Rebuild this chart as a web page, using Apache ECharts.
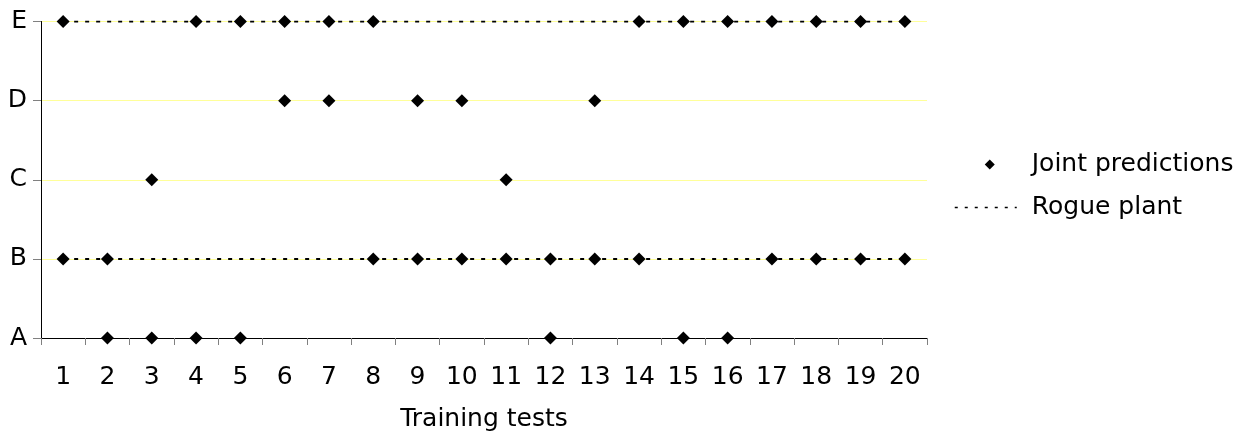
<!DOCTYPE html>
<html>
<head>
<meta charset="utf-8">
<script src="https://cdn.jsdelivr.net/npm/echarts@6/dist/echarts.min.js"></script>
<style>
  html, body { margin: 0; padding: 0; background: #fff; }
  #chart { width: 1246px; height: 437px; }
</style>
</head>
<body>
<div id="chart"></div>
<script>
// training tests 1..20 on x, plant classes A..E on y
const tests = ['1','2','3','4','5','6','7','8','9','10','11','12','13','14','15','16','17','18','19','20'];
const classes = ['A', 'B', 'C', 'D', 'E'];

// joint predictions: [test index, class index]
const jointPredictions = [
  [0, 4], [0, 1],
  [1, 1], [1, 0],
  [2, 2], [2, 0],
  [3, 4], [3, 0],
  [4, 4], [4, 0],
  [5, 4], [5, 3],
  [6, 4], [6, 3],
  [7, 4], [7, 1],
  [8, 3], [8, 1],
  [9, 3], [9, 1],
  [10, 2], [10, 1],
  [11, 1], [11, 0],
  [12, 3], [12, 1],
  [13, 4], [13, 1],
  [14, 4], [14, 0],
  [15, 4], [15, 0],
  [16, 4], [16, 1],
  [17, 4], [17, 1],
  [18, 4], [18, 1],
  [19, 4], [19, 1]
];

// rogue plant lines (class E and class B across all tests)
const rogueE = [4,4,4,4,4,4,4,4,4,4,4,4,4,4,4,4,4,4,4,4];
const rogueB = [1,1,1,1,1,1,1,1,1,1,1,1,1,1,1,1,1,1,1,1];

const chart = echarts.init(document.getElementById('chart'));
const font = 'DejaVu Sans';
const rogueStyle = { color: '#000', width: 2, type: [4, 7] };
// small diamond sitting inside the wide legend slot
const legendDiamond = 'path://M0,5L0,5M62,5L62,5M35,0L40,5L35,10L30,5Z';

const option = {
  animation: false,
  textStyle: { fontFamily: font },
  grid: { left: 41, right: 319, top: 21.5, bottom: 95.5, containLabel: false },
  legend: {
    orient: 'vertical',
    left: 949,
    top: 147,
    itemWidth: 62,
    itemHeight: 10,
    itemGap: 18,
    textStyle: { fontFamily: font, fontSize: 25, color: '#000', padding: [0, 0, 0, 10] },
    data: [
      { name: 'Joint predictions', icon: legendDiamond },
      { name: 'Rogue plant', itemStyle: { opacity: 0 }, lineStyle: { width: 1.5, type: [3, 7] } }
    ]
  },
  xAxis: {
    type: 'category',
    data: tests,
    boundaryGap: true,
    name: 'Training tests',
    nameLocation: 'middle',
    nameGap: 69,
    nameTextStyle: { fontFamily: font, fontSize: 25, color: '#000' },
    axisLine: { lineStyle: { color: '#000', width: 1 } },
    axisTick: { show: true, length: 7, lineStyle: { color: '#808080' } },
    axisLabel: { fontFamily: font, fontSize: 25, color: '#000', margin: 27 },
    splitLine: { show: false }
  },
  yAxis: {
    type: 'value',
    min: 0,
    max: 4,
    interval: 1,
    axisLine: { show: true, lineStyle: { color: '#000', width: 1 } },
    axisTick: { show: true, length: 8, lineStyle: { color: '#808080' } },
    axisLabel: {
      fontFamily: font, fontSize: 25, color: '#000', margin: 14,
      formatter: v => classes[v]
    },
    splitLine: { show: true, lineStyle: { color: '#ffff99', width: 1 } }
  },
  series: [
    {
      name: 'Joint predictions',
      type: 'scatter',
      symbol: 'diamond',
      symbolSize: 13,
      itemStyle: { color: '#000', opacity: 1 },
      z: 5,
      data: jointPredictions
    },
    {
      name: 'Rogue plant',
      type: 'line',
      symbol: 'none',
      lineStyle: rogueStyle,
      itemStyle: { color: '#000' },
      z: 3,
      data: rogueE
    },
    {
      name: 'Rogue plant',
      type: 'line',
      symbol: 'none',
      lineStyle: rogueStyle,
      itemStyle: { color: '#000' },
      z: 3,
      data: rogueB
    }
  ]
};

chart.setOption(option);
</script>
</body>
</html>
